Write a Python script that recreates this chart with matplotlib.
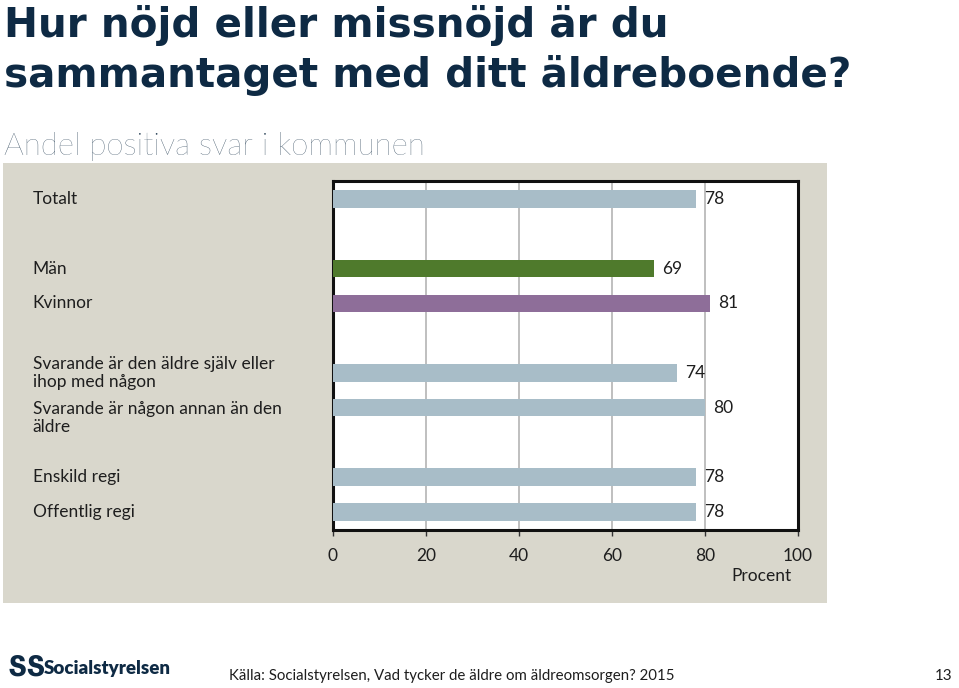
import matplotlib.pyplot as plt
from matplotlib.patches import Rectangle
from matplotlib.transforms import blended_transform_factory, offset_copy

"""DATA"""
groups = [
    ["Totalt"],
    ["Män", "Kvinnor"],
    ["Svarande är den äldre själv eller\nihop med någon",
     "Svarande är någon annan än den\näldre"],
    ["Enskild regi", "Offentlig regi"],
]
values = [[78], [69, 81], [74, 80], [78, 78]]
bar_colors = [["#A8BDC8"], ["#4F7A2C", "#8E6E99"], ["#A8BDC8", "#A8BDC8"],
              ["#A8BDC8", "#A8BDC8"]]
xticks = [0, 20, 40, 60, 80, 100]

title = "Hur nöjd eller missnöjd är du\nsammantaget med ditt äldreboende?"
subtitle = "Andel positiva svar i kommunen"
source = "Källa: Socialstyrelsen, Vad tycker de äldre om äldreomsorgen? 2015"

"""STYLE"""
_navy = "#0E2A44"
_text = "#1E1E1E"
_panel = "#D9D7CC"
_fs = 12.5
plt.rcParams["font.family"] = ["Lato", "DejaVu Sans"]

fig = plt.figure(figsize=(9.59, 6.88), dpi=100)
fig.patch.set_facecolor("white")

# grey panel behind the chart
fig.patches.append(Rectangle((0.0031, 0.1235), 0.8593, 0.6396, transform=fig.transFigure,
                             facecolor=_panel, edgecolor="none", zorder=-5))

ax = fig.add_axes([0.3472, 0.2297, 0.4849, 0.5073])
ax.set_facecolor("white")
ax.set_zorder(2)

# bar positions: one slot between groups
pos, labels, vals, cols = [], [], [], []
y = 0
for g, v, c in zip(groups, values, bar_colors):
    for lab, val, col in zip(g, v, c):
        pos.append(y)
        labels.append(lab)
        vals.append(val)
        cols.append(col)
        y += 1
    y += 1

ax.barh(pos, vals, height=0.5, color=cols, zorder=3)
ax.set_xlim(0, 100)
ax.set_ylim(pos[-1] + 0.52, -0.52)
ax.set_xticks(xticks)
ax.set_xticklabels([str(t) for t in xticks], fontsize=_fs, color=_text)
ax.set_yticks([])
ax.tick_params(axis="x", length=4, width=1, color="#333333", pad=9)
ax.grid(axis="x", color="#B4B4B4", linewidth=1.2, zorder=1)
for s in ax.spines.values():
    s.set_color("#111111")
    s.set_linewidth(2.2)

# value labels
trans_val = offset_copy(ax.transData, fig=fig, x=8, y=0, units="dots")
for p, v in zip(pos, vals):
    ax.text(v, p, str(v), transform=trans_val, ha="left", va="center",
            fontsize=_fs, color=_text, zorder=4)

# category labels in the panel
trans_lab = blended_transform_factory(fig.transFigure, ax.transData)
for p, lab in zip(pos, labels):
    yy = p
    if lab.startswith("Svarande är någon"):
        yy = p + 0.3
    ax.text(0.034, yy, lab, transform=trans_lab, ha="left", va="center",
            fontsize=_fs, color=_text, linespacing=1.15, clip_on=False)

ax.text(0.985, -0.11, "Procent", transform=ax.transAxes, ha="right", va="top",
        fontsize=_fs, color=_text)

"""TITLES"""
fig.text(0.004, 0.993, title, ha="left", va="top", fontsize=29.2, fontweight="bold",
         color=_navy, linespacing=1.3, family="DejaVu Sans")
fig.text(0.004, 0.7655, subtitle, ha="left", va="bottom", fontsize=22.5, fontweight="light",
         color="#2A4257")

"""FOOTER"""
fig.text(0.008, 0.030, "ՏՏ", ha="left", va="center", fontsize=20, fontweight="bold",
         color=_navy)
fig.text(0.046, 0.028, "Socialstyrelsen", ha="left", va="center", fontsize=13.5,
         fontweight="heavy", color=_navy)
fig.text(0.239, 0.018, source, ha="left", va="center", fontsize=10.8, color=_text)
fig.text(0.993, 0.018, "13", ha="right", va="center", fontsize=10.8, color=_text)

fig.savefig("out.png", dpi=100)
